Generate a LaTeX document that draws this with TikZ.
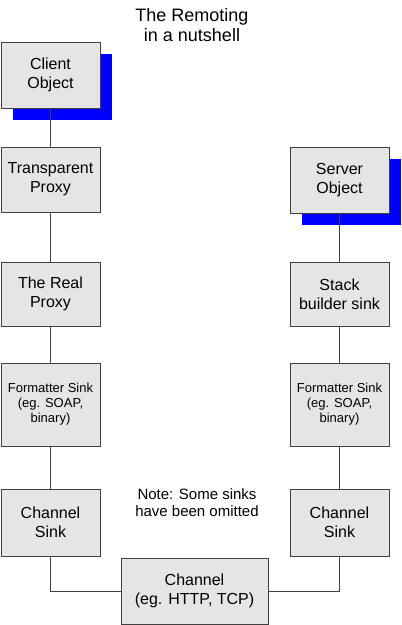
\documentclass[tikz,border=0pt]{standalone}
\usepackage{fontspec}
\setmainfont{Liberation Sans}
\usetikzlibrary{shadows}
\begin{document}
\begin{tikzpicture}[x=1pt,y=-1pt,
  box/.style={draw=black!75,line width=1pt,fill=black!10,align=center,inner sep=0pt,
    font=\fontsize{16}{19}\selectfont},
  small/.style={font=\fontsize{13}{15}\selectfont},
  shad/.style={drop shadow={shadow xshift=11.5pt,shadow yshift=-12pt,fill=blue,opacity=1}},
  link/.style={draw=black!75,line width=1pt}]
\useasboundingbox (0,0) rectangle (402,625);
\node[box,shad,minimum width=99pt,minimum height=66pt] (co) at (50.5,75) {Client\\Object};
\node[box,minimum width=99pt,minimum height=65pt] (tp) at (50.5,179.5) {Transparent\\Proxy};
\node[box,minimum width=99pt,minimum height=64pt] (rp) at (50.5,294) {The Real\\Proxy};
\node[box,small,minimum width=99pt,minimum height=83pt] (fl) at (50.5,404.5) {Formatter Sink\\(eg. SOAP,\\binary)};
\node[box,minimum width=99pt,minimum height=67pt] (cl) at (50.5,522.5) {Channel\\Sink};
\node[box,minimum width=147pt,minimum height=66pt] (ch) at (194.5,591) {Channel\\(eg. HTTP, TCP)};
\node[box,minimum width=99pt,minimum height=67pt] (cr) at (339.5,522.5) {Channel\\Sink};
\node[box,small,minimum width=99pt,minimum height=83pt] (fr) at (339.5,404.5) {Formatter Sink\\(eg. SOAP,\\binary)};
\node[box,minimum width=99pt,minimum height=64pt] (sb) at (339.5,294) {Stack\\builder sink};
\node[box,shad,minimum width=99pt,minimum height=66pt] (so) at (339.5,180) {Server\\Object};
\node[align=center,font=\fontsize{18}{20.5}\selectfont] (title) at (192,25) {The Remoting\\in a nutshell};
\node[align=center,font=\fontsize{15}{17}\selectfont] (note) at (197,503) {Note: Some sinks\\have been omitted};
\draw[link] (co) -- (tp);
\draw[link] (tp) -- (rp);
\draw[link] (rp) -- (fl);
\draw[link] (fl) -- (cl);
\draw[link] (cl.south) -- (cl.south |- ch.west) -- (ch.west);
\draw[link] (ch.east) -- (cr.south |- ch.east) -- (cr.south);
\draw[link] (cr) -- (fr);
\draw[link] (fr) -- (sb);
\draw[link] (sb) -- (so);
\end{tikzpicture}
\end{document}
